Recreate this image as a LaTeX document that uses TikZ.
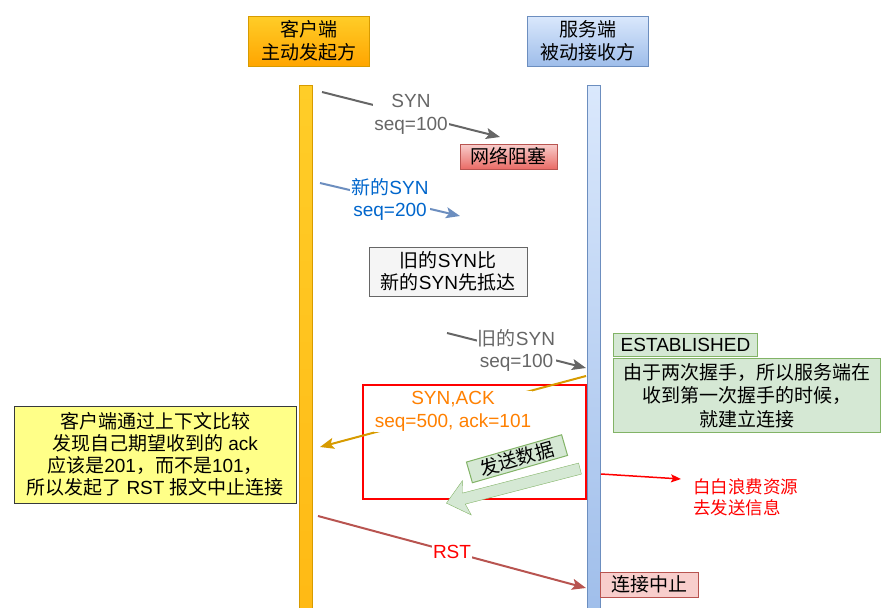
\documentclass[tikz,border=0pt]{standalone}
\usepackage{fontspec}
\setmainfont{Liberation Sans}
\newfontfamily\zh{Noto Sans CJK SC}
\usetikzlibrary{arrows.meta,positioning,calc,shapes.arrows}
\definecolor{TcpOrange}{HTML}{FFCD28}
\definecolor{TcpOrangeDk}{HTML}{FFA500}
\definecolor{TcpOrangeLine}{HTML}{D79B00}
\definecolor{TcpBlue}{HTML}{DAE8FC}
\definecolor{TcpBlueDk}{HTML}{7EA6E0}
\definecolor{TcpBlueLine}{HTML}{6C8EBF}
\definecolor{TcpRed}{HTML}{F8CECC}
\definecolor{TcpRedDk}{HTML}{EA6B66}
\definecolor{TcpRedLine}{HTML}{B85450}
\definecolor{TcpGreen}{HTML}{D5E8D4}
\definecolor{TcpGreenLine}{HTML}{82B366}
\definecolor{TcpGrey}{HTML}{F5F5F5}
\definecolor{TcpGreyLine}{HTML}{666666}
\definecolor{TcpNote}{HTML}{FFFF88}
\definecolor{TcpNoteLine}{HTML}{36393D}
\definecolor{TcpLink}{HTML}{0066CC}
\definecolor{TcpAmber}{HTML}{FF8000}

\begin{document}
\begin{tikzpicture}[x=1pt,y=-1pt,
  txt/.style={font=\fontsize{19}{22.5}\selectfont,align=center},
  zhtxt/.style={font=\zh\fontsize{19}{22.5}\selectfont,align=center},
  box/.style={draw,line width=1pt,inner sep=0pt},
  head/.style={box,zhtxt,minimum width=121pt,minimum height=50pt},
  life/.style={draw,line width=1pt,minimum width=13pt,minimum height=540pt,inner sep=0pt,anchor=north},
  msg/.style={-{Stealth[length=14pt,width=11pt,inset=3pt]},line width=2pt},
  tag/.style={txt,fill=white,inner sep=1pt},
]
\useasboundingbox (0,0) rectangle (884,608);
\node[head,top color=TcpOrange,bottom color=TcpOrangeDk,draw=TcpOrangeLine] (client) at (308.5,41) {客户端\\主动发起方};
\node[head,top color=TcpBlue,bottom color=TcpBlue!35!TcpBlueDk,draw=TcpBlueLine] (server) at (587.5,41) {服务端\\被动接收方};
\node[life,top color=TcpOrange,bottom color=TcpOrange!50!TcpOrangeDk,draw=TcpOrangeLine] (clientline) at (305.5,85) {};
\node[life,top color=TcpBlue,bottom color=TcpBlue!35!TcpBlueDk,draw=TcpBlueLine] (serverline) at (594,85) {};

\coordinate (syn1from) at (322,92);
\coordinate (syn1to) at (500,137);
\draw[msg,TcpGreyLine] (syn1from) -- node[tag,text=TcpGreyLine] (syn1) {SYN\\seq=100} (syn1to);
\node[box,zhtxt,top color=TcpRed,bottom color=TcpRedDk,draw=TcpRedLine,minimum width=97pt,minimum height=25pt] (jam) at (508.5,156.5) {网络阻塞};

\coordinate (syn2from) at (320,183);
\coordinate (syn2to) at (460,216);
\draw[msg,TcpBlueLine] (syn2from) -- node[tag,text=TcpLink] (syn2) {{\zh 新的}SYN\\seq=200} (syn2to);

\node[box,txt,fill=TcpGrey,draw=TcpGreyLine,minimum width=158pt,minimum height=49pt] (overtake) at (448,271.5) {{\zh 旧的}SYN{\zh 比}\\{\zh 新的}SYN{\zh 先抵达}};

\coordinate (syn3from) at (447,333);
\coordinate (syn3to) at (586,368);
\draw[msg,TcpGreyLine] (syn3from) -- node[tag,text=TcpGreyLine] (syn3) {{\zh 旧的}SYN\\seq=100} (syn3to);

\node[box,txt,fill=TcpGreen,draw=TcpGreenLine,minimum width=144pt,minimum height=23pt,anchor=north west] (est) at (613,333) {ESTABLISHED};
\node[box,zhtxt,fill=TcpGreen,draw=TcpGreenLine,minimum width=267pt,minimum height=74pt,below right=1pt and 0pt of est.south west,font=\zh\fontsize{19}{23.5}\selectfont] (why) {由于两次握手，所以服务端在\\收到第一次握手的时候，\\就建立连接};

\node[draw=red,line width=2pt,minimum width=223pt,minimum height=114pt,inner sep=0pt] (focus) at (474.5,442) {};

\coordinate (ackfrom) at (586,376);
\coordinate (ackto) at (320,447);
\draw[msg,TcpOrangeLine] (ackfrom) -- node[tag,text=TcpAmber] (synack) {SYN,ACK\\seq=500, ack=101} (ackto);

\node[single arrow,draw=TcpGreenLine,fill=TcpGreen,minimum height=138pt,inner xsep=0pt,inner ysep=5.5pt,single arrow head extend=12pt,single arrow tip angle=80,single arrow head indent=3pt,rotate=194.5] (sendarrow) at (516.5,485) {};
\node[box,zhtxt,fill=TcpGreen,draw=TcpGreenLine,minimum width=99pt,minimum height=21.5pt,rotate=16] (sendtag) at (517,458.75) {发送数据};

\node[box,txt,fill=TcpNote,draw=TcpNoteLine,minimum width=282pt,minimum height=97pt,font=\fontsize{19}{22}\selectfont] (note) at (155,454.5) {{\zh 客户端通过上下文比较}\\{\zh 发现自己期望收到的} ack\\{\zh 应该是}201{\zh ，而不是}101{\zh ，}\\{\zh 所以发起了} RST {\zh 报文中止连接}};

\coordinate (wastefrom) at (601,474);
\coordinate (wasteto) at (681,479);
\node[anchor=west,align=left,text=red,font=\zh\fontsize{17.5}{21}\selectfont,inner sep=0pt] (waste) at (693,497) {白白浪费资源\\去发送信息};
\draw[-{Stealth[length=10pt,width=8pt,inset=2pt]},red,line width=1.5pt] (wastefrom) -- (wasteto);

\coordinate (rstfrom) at (318,516);
\coordinate (rstto) at (586,588);
\draw[msg,TcpRedLine] (rstfrom) -- node[tag,text=red] (rst) {RST} (rstto);
\node[box,zhtxt,fill=TcpRed,draw=TcpRedLine,minimum width=98pt,minimum height=25pt] (abort) at (649,584.5) {连接中止};
\end{tikzpicture}
\end{document}
